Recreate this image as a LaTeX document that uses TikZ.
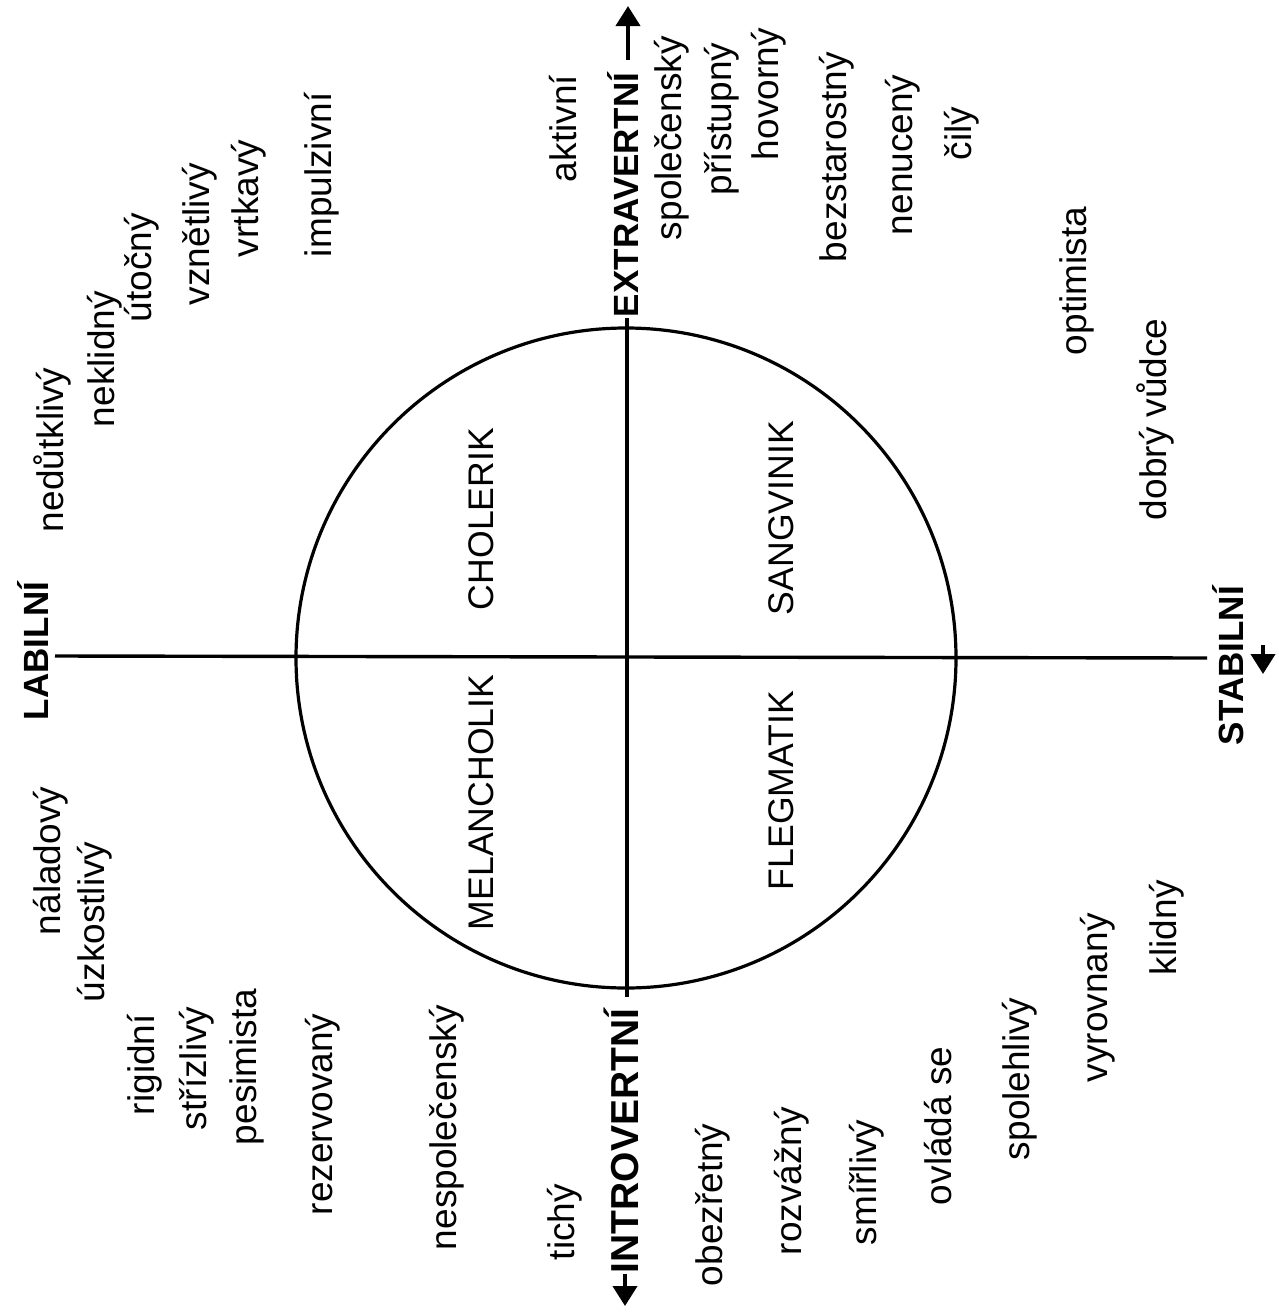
\documentclass[tikz,border=0pt]{standalone}
\usepackage{fontspec}
\setmainfont{Liberation Sans}
\usetikzlibrary{arrows.meta}
\tikzset{
  word/.style={rotate=90, anchor=base west, inner sep=0pt, outer sep=0pt,
    font=\fontsize{18.5}{20}\selectfont},
  typ/.style={word, font=\fontsize{17.8}{20}\selectfont},
  axislabel/.style={word, font=\fontsize{17.5}{20}\selectfont\bfseries},
  axis/.style={line width=1.7pt, line cap=butt},
  ring/.style={circle, draw, line width=1.6pt, inner sep=0pt, minimum size=330pt},
  tiparrow/.style={line width=2pt, -{Triangle[length=10pt,width=12pt]}}
}
\begin{document}
\begin{tikzpicture}[x=0.5pt, y=-0.5pt]
\useasboundingbox (0,0) rectangle (1279,1312);
% circle and axes
\node[ring] (C) at (626,658) {};
\coordinate (L) at (55,656);
\coordinate (R) at (1207,658);
\coordinate (T) at (627,318);
\coordinate (B) at (627,997);
\draw[axis] (L) -- (R);
\draw[axis] (T) -- (B);
% axis labels
\node[axislabel] (ext) at (638,317) {EXTRAVERTNÍ};
\node[axislabel, font=\fontsize{19.5}{21}\selectfont\bfseries] (int) at (638,1273) {INTROVERTNÍ};
\node[axislabel] (lab) at (48,720) {LABILNÍ};
\node[axislabel] (stab) at (1243,745) {STABILNÍ};
\coordinate (extA) at (628,60);
\coordinate (extB) at (628,6);
\coordinate (intA) at (625,1274);
\coordinate (intB) at (625,1306);
\coordinate (stA) at (1263,645);
\coordinate (stB) at (1263,674);
\draw[tiparrow] (extA) -- (extB);
\draw[tiparrow] (intA) -- (intB);
\draw[tiparrow] (stA) -- (stB);
% temperament types
\node[typ] (chol) at (493,610) {CHOLERIK};
\node[typ] (sang) at (793,615) {SANGVINIK};
\node[typ] (mel) at (493,930) {MELANCHOLIK};
\node[typ] (fleg) at (793,890) {FLEGMATIK};
% upper left
\node[word] (w1) at (63,532) {nedůtklivý};
\node[word] (w2) at (114,427) {neklidný};
\node[word] (w3) at (151,322) {útočný};
\node[word] (w4) at (209,305) {vznětlivý};
\node[word] (w5) at (258,257) {vrtkavý};
\node[word] (w6) at (331,257) {impulzivní};
\node[word] (w7) at (576,182) {aktivní};
% upper right
\node[word] (w8) at (681,240) {společenský};
\node[word] (w9) at (731,195) {přístupný};
\node[word] (w10) at (778,160) {hovorný};
\node[word] (w11) at (846,262) {bezstarostný};
\node[word] (w12) at (912,235) {nenucený};
\node[word] (w13) at (971,160) {čilý};
\node[word] (w14) at (1086,355) {optimista};
\node[word] (w15) at (1166,520) {dobrý vůdce};
% lower left
\node[word] (w16) at (61,935) {náladový};
\node[word] (w17) at (104,1002) {úzkostlivý};
\node[word] (w18) at (154,1115) {rigidní};
\node[word] (w19) at (206,1130) {střízlivý};
\node[word] (w20) at (256,1145) {pesimista};
\node[word] (w21) at (332,1215) {rezervovaný};
\node[word] (w22) at (456,1250) {nespolečenský};
\node[word] (w23) at (574,1260) {tichý};
% lower right
\node[word] (w24) at (722,1286) {obezřetný};
\node[word] (w25) at (801,1255) {rozvážný};
\node[word] (w26) at (876,1245) {smířlivý};
\node[word] (w27) at (951,1205) {ovládá se};
\node[word] (w28) at (1029,1160) {spolehlivý};
\node[word] (w29) at (1107,1082) {vyrovnaný};
\node[word] (w30) at (1176,975) {klidný};
\end{tikzpicture}
\end{document}
